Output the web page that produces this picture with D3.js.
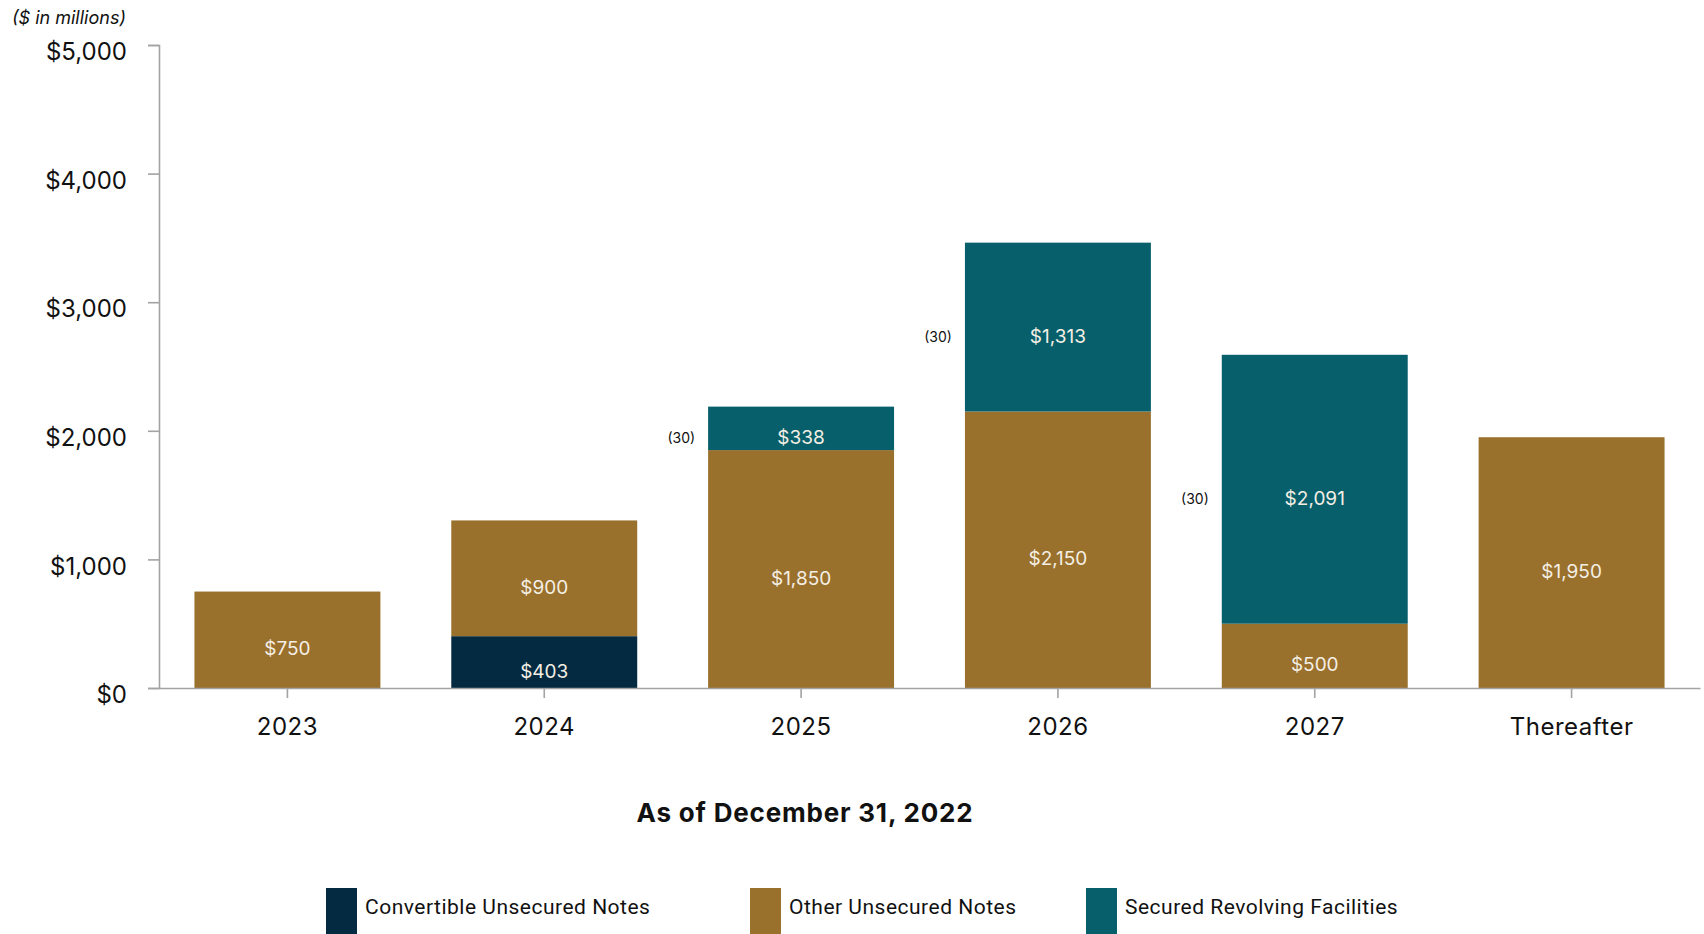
<!DOCTYPE html>
<html>
<head>
<meta charset="utf-8">
<script src="https://cdn.jsdelivr.net/npm/d3@7/dist/d3.min.js"></script>
<style>
  html, body { margin: 0; padding: 0; background: #ffffff; }
  svg { display: block; }
  .axis path, .axis line { stroke: #a3a3a3; stroke-width: 1.6px; }
  .axis text { font-family: Inter, "Noto Sans", sans-serif; fill: #111; }
</style>
</head>
<body>
<svg id="chart" width="1704" height="934"></svg>
<script>
// Debt maturities by year ($ in millions)
const categories = ["2023", "2024", "2025", "2026", "2027", "Thereafter"];
const seriesNames = ["Convertible Unsecured Notes", "Other Unsecured Notes", "Secured Revolving Facilities"];
const convertibleUnsecured = [0, 403, 0, 0, 0, 0];
const otherUnsecured = [750, 900, 1850, 2150, 500, 1950];
const securedRevolving = [0, 0, 338, 1313, 2091, 0];
// Unamortized adjustments shown beside the revolving segments
const adjustmentYears = ["2025", "2026", "2027"];
const adjustmentValues = [-30, -30, -30];
const yTicks = [0, 1000, 2000, 3000, 4000, 5000];
const seriesColors = ["#032a40", "#9a702d", "#075f6b"];

const rows = categories.map((c, i) => ({
  year: c,
  [seriesNames[0]]: convertibleUnsecured[i],
  [seriesNames[1]]: otherUnsecured[i],
  [seriesNames[2]]: securedRevolving[i]
}));

const svg = d3.select("#chart");
const plot = { left: 159, right: 1700, top: 45, bottom: 688 };

const x = d3.scaleBand()
  .domain(categories)
  .range([plot.left, plot.right])
  .paddingInner(0.276)
  .paddingOuter(0.138);

const y = d3.scaleLinear()
  .domain([0, 5000])
  .range([plot.bottom, plot.top]);

const color = d3.scaleOrdinal().domain(seriesNames).range(seriesColors);

const stacked = d3.stack().keys(seriesNames)(rows);

// Stacked bars
const layers = svg.append("g")
  .selectAll("g")
  .data(stacked)
  .join("g")
  .attr("fill", d => color(d.key));

layers.selectAll("rect")
  .data(d => d.filter(s => s[1] - s[0] > 0))
  .join("rect")
  .attr("x", d => x(d.data.year))
  .attr("width", x.bandwidth())
  .attr("y", d => y(d[1]))
  .attr("height", d => y(d[0]) - y(d[1]));

// Segment value labels
const fmt = v => "$" + d3.format(",")(v);
const labelShift = 9;
layers.selectAll("text")
  .data(d => d.filter(s => s[1] - s[0] > 0))
  .join("text")
  .attr("x", d => x(d.data.year) + x.bandwidth() / 2)
  .attr("y", d => (y(d[0]) + y(d[1])) / 2 + labelShift)
  .attr("text-anchor", "middle")
  .attr("dominant-baseline", "central")
  .attr("font-family", "Inter, 'Noto Sans', sans-serif")
  .attr("font-size", 19)
  .attr("fill", "#f4efe4")
  .text(d => fmt(d[1] - d[0]));

// Adjustment notes left of the revolving segments
const secured = stacked.find(s => s.key === seriesNames[2]);
svg.append("g")
  .selectAll("text")
  .data(adjustmentYears.map((yr, i) => ({ year: yr, value: adjustmentValues[i] })))
  .join("text")
  .attr("x", d => x(d.year) - 13)
  .attr("y", d => {
    const seg = secured[categories.indexOf(d.year)];
    return (y(seg[0]) + y(seg[1])) / 2 + labelShift;
  })
  .attr("text-anchor", "end")
  .attr("dominant-baseline", "central")
  .attr("font-family", "Inter, 'Noto Sans', sans-serif")
  .attr("font-size", 14)
  .attr("fill", "#111")
  .text(d => d.value < 0 ? "(" + Math.abs(d.value) + ")" : String(d.value));

// Axes
const yAxis = svg.append("g")
  .attr("class", "axis")
  .attr("transform", `translate(${plot.left},0)`)
  .call(d3.axisLeft(y).tickValues(yTicks).tickSize(11).tickPadding(21).tickFormat(fmt));
yAxis.selectAll("text")
  .attr("font-size", 24)
  .attr("dy", "0.32em")
  .attr("transform", "translate(0,7)");

const xAxis = svg.append("g")
  .attr("class", "axis")
  .attr("transform", `translate(0,${plot.bottom})`)
  .call(d3.axisBottom(x).tickSize(10).tickSizeOuter(0).tickPadding(20));
xAxis.selectAll("text")
  .attr("font-size", 24)
  .attr("letter-spacing", "0.5px");

// Unit note
svg.append("text")
  .attr("x", 12)
  .attr("y", 17)
  .attr("dominant-baseline", "central")
  .attr("font-family", "Inter, 'Noto Sans', sans-serif")
  .attr("font-style", "italic")
  .attr("font-size", 18)
  .attr("fill", "#111")
  .text("($ in millions)");

// Caption
svg.append("text")
  .attr("x", 805)
  .attr("y", 812)
  .attr("text-anchor", "middle")
  .attr("dominant-baseline", "central")
  .attr("font-family", "Inter, 'Noto Sans', sans-serif")
  .attr("font-weight", 700)
  .attr("font-size", 26)
  .attr("letter-spacing", "0.8px")
  .attr("fill", "#111")
  .text("As of December 31, 2022");

// Legend
const legendX = [326, 750, 1086];
const legend = svg.append("g")
  .selectAll("g")
  .data(seriesNames)
  .join("g")
  .attr("transform", (d, i) => `translate(${legendX[i]},888)`);
legend.append("rect")
  .attr("width", 31)
  .attr("height", 50)
  .attr("fill", d => color(d));
legend.append("text")
  .attr("x", 39)
  .attr("y", 19)
  .attr("dominant-baseline", "central")
  .attr("font-family", "Roboto, 'Noto Sans', sans-serif")
  .attr("font-size", 21)
  .attr("letter-spacing", "0.5px")
  .attr("fill", "#111")
  .text(d => d);
</script>
</body>
</html>
